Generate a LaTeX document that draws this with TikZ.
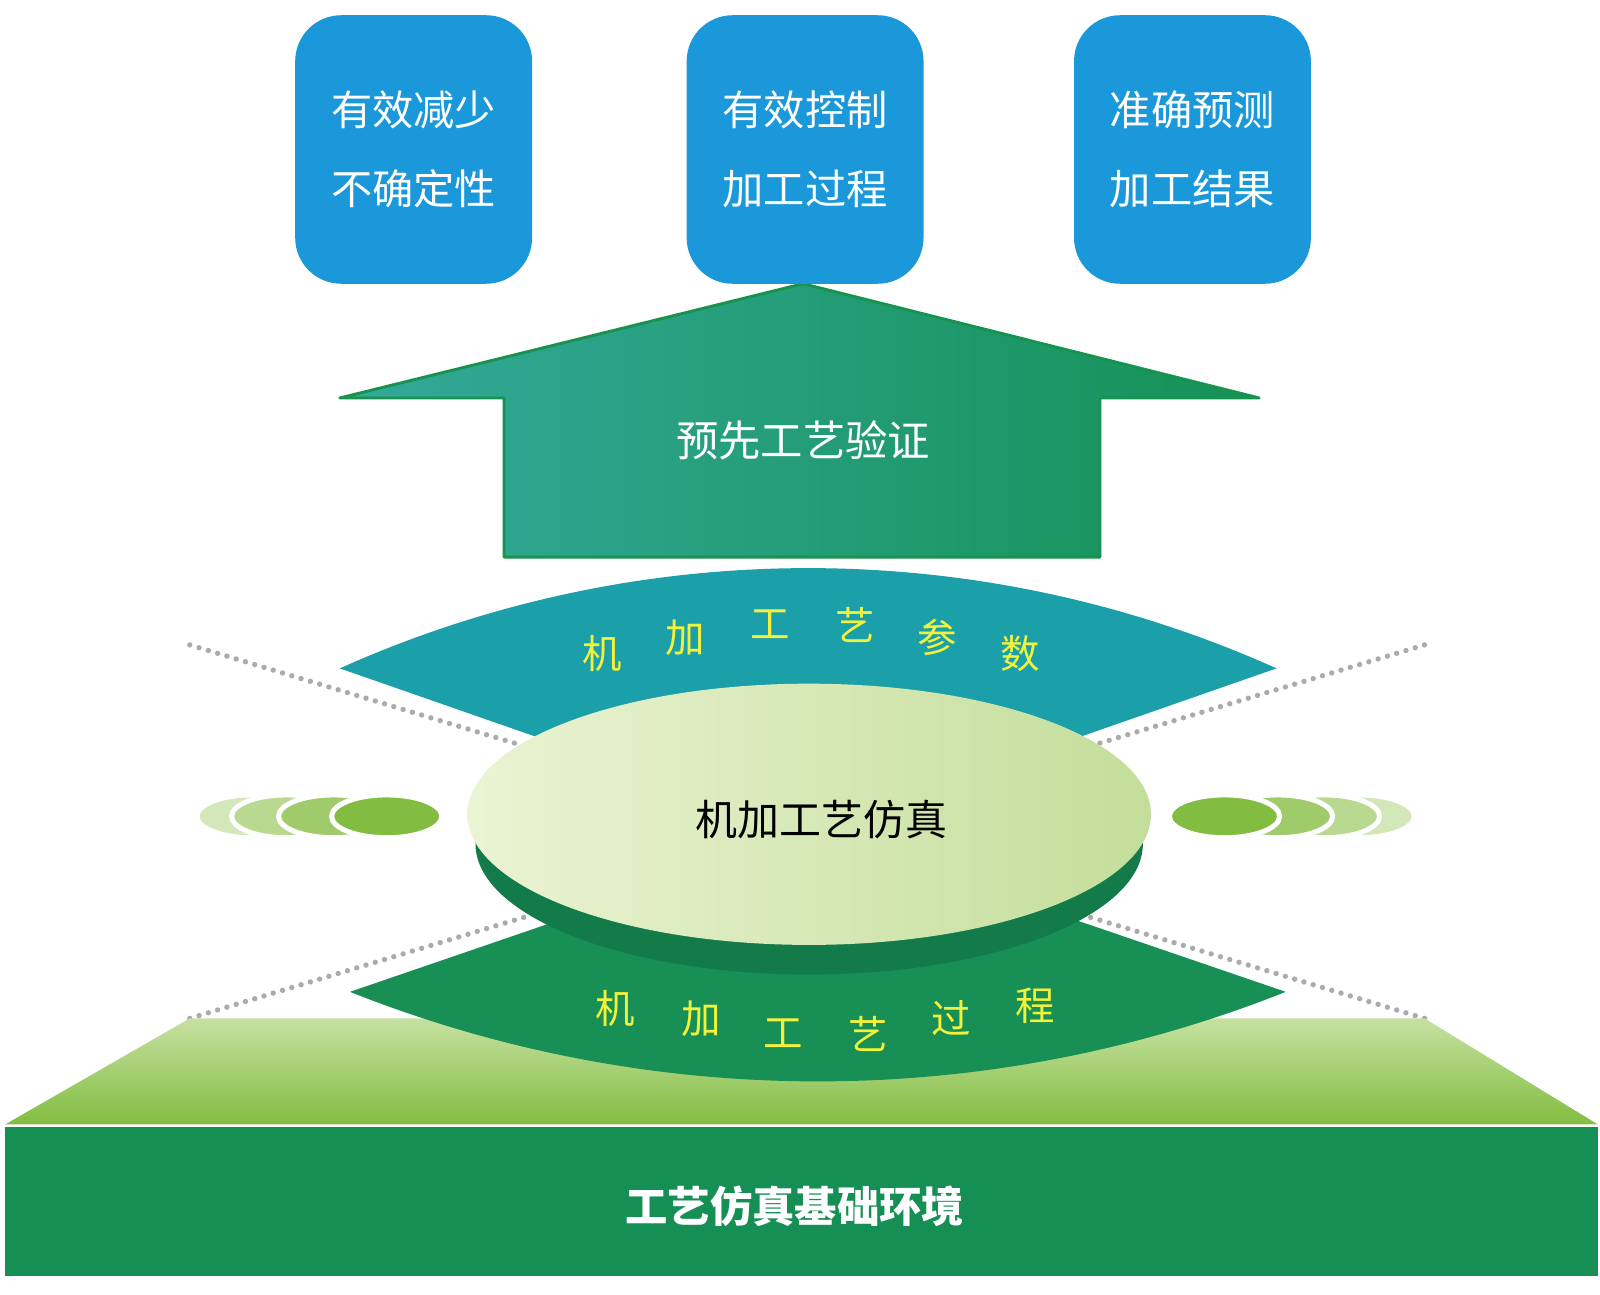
\documentclass[tikz,border=0pt]{standalone}
\usepackage{fontspec}
\setmainfont{Noto Sans CJK SC}
\usetikzlibrary{positioning}
\definecolor{goalblue}{HTML}{1B98D9}
\definecolor{arrowteal}{HTML}{33A99A}
\definecolor{arrowmid}{HTML}{1DA089}
\definecolor{arrowgreen}{HTML}{159156}
\definecolor{arrowedge}{HTML}{17924F}
\definecolor{fanteal}{HTML}{1B9FA9}
\definecolor{fangreen}{HTML}{178F55}
\definecolor{rimgreen}{HTML}{127B49}
\definecolor{discleft}{HTML}{EBF3D3}
\definecolor{discright}{HTML}{C3DE9B}
\definecolor{fanyellow}{HTML}{F2F23C}
\definecolor{dotgray}{HTML}{ABABAB}
\definecolor{padtop}{HTML}{C6E1A1}
\definecolor{padbottom}{HTML}{82BD41}
\definecolor{basegreen}{HTML}{168F55}
\definecolor{pillA}{HTML}{82BD41}
\definecolor{pillB}{HTML}{A0CB6A}
\definecolor{pillC}{HTML}{B9D890}
\definecolor{pillD}{HTML}{D3E7B8}

\begin{document}
\begin{tikzpicture}[x=0.01cm, y=-0.01cm,
  goalbox/.style={rounded corners=12.8pt, fill=goalblue, minimum width=2.32cm,
    minimum height=2.63cm, text=white, align=center,
    font=\fontsize{11.5}{22}\selectfont},
  fanchar/.style={text=fanyellow, font=\fontsize{11}{12}\selectfont},
  dotline/.style={dotgray, line width=1.5pt, line cap=round, dash pattern=on 0pt off 2.7pt},
  pill/.style={draw=white, line width=1.4pt}]
\useasboundingbox (0,0) rectangle (1568,1269);
\fill[white] (0,0) rectangle (1568,1269);

% perspective dots
\draw[dotline] (186,632) -- (791,815);
\draw[dotline] (1396,632) -- (791,815);
\draw[dotline] (186,998) -- (791,815);
\draw[dotline] (1396,998) -- (791,815);

% base platform
\shade[top color=padtop, bottom color=padbottom]
  (186,998) -- (1396,998) -- (1566,1102) -- (5,1102) -- cycle;
\fill[basegreen] (5,1104) rectangle (1566,1250);
\node[text=white, font=\fontsize{11.8}{14}\selectfont\bfseries] (base) at (779,1182) {工艺仿真基础环境};

% upper and lower fans
\fill[fanteal] (333,655) .. controls (625,524) and (959,524) .. (1251,655) -- (792,815) -- cycle;
\fill[fangreen] (343,972) .. controls (637,1089) and (966,1089) .. (1260,972) -- (801,815) -- cycle;

\foreach \ch/\px/\py [count=\i] in {机/590/640, 加/672/625, 工/755/612, 艺/838/612, 参/918/625, 数/1000/640}
  \node[fanchar] (par\i) at (\px,\py) {\ch};
\foreach \ch/\px/\py [count=\i] in {机/603/988, 加/687/998, 工/768/1013, 艺/851/1013, 过/932/998, 程/1015/986}
  \node[fanchar] (proc\i) at (\px,\py) {\ch};

% simulation disc
\fill[rimgreen] (793,827) ellipse [x radius=327, y radius=128];
\shade[left color=discleft, right color=discright] (793,798) ellipse [x radius=335, y radius=128];
\node[font=\fontsize{11.7}{14}\selectfont] (sim) at (805,803) {机加工艺仿真};

% side pills
\foreach \cx/\col in {247/pillD, 281/pillC, 327/pillB, 379/pillA}
  \filldraw[pill, fill=\col] (\cx,800) ellipse [x radius=54, y radius=21];
\foreach \cx/\col in {1332/pillD, 1298/pillC, 1252/pillB, 1200/pillA}
  \filldraw[pill, fill=\col] (\cx,800) ellipse [x radius=54, y radius=21];

% up arrow
\shade[left color=arrowteal, middle color=arrowmid, right color=arrowgreen,
       draw=arrowedge, line width=0.8pt, line join=round]
  (787,278) -- (1234,390) -- (1078,390) -- (1078,546) -- (494,546) -- (494,390) -- (333,390) -- cycle;
\node[text=white, font=\fontsize{11.8}{14}\selectfont] (verify) at (787,432) {预先工艺验证};

% goals
\node[goalbox] (ctrl) at (789,146.5) {有效控制\\加工过程};
\node[goalbox, left=1.5cm of ctrl] (reduce) {有效减少\\不确定性};
\node[goalbox, right=1.46cm of ctrl] (predict) {准确预测\\加工结果};
\end{tikzpicture}
\end{document}
